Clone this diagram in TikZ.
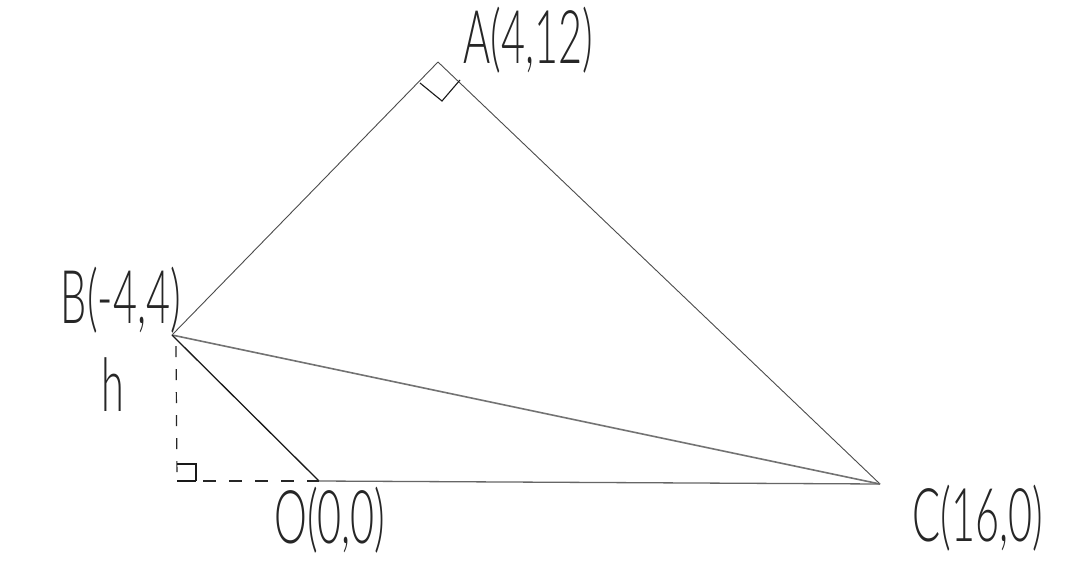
\documentclass[tikz,border=0pt]{standalone}
\usepackage{fontspec}
\setmainfont{Lato Light}
\begin{document}
\begin{tikzpicture}[x=1pt,y=-1pt,
  lbl/.style={font=\fontsize{74}{74}\selectfont, text=black!85, inner sep=0pt, xscale=0.56, transform shape},
  thinside/.style={draw=black!70, line width=0.9pt},
  graymid/.style={draw=black!55, line width=1.6pt},
  darkside/.style={draw=black!90, line width=1.3pt},
  dashln/.style={draw=black!85, line width=1.2pt, dash pattern=on 11pt off 12pt}]
\useasboundingbox[fill=white] (0,0) rectangle (1076,560);
% points
\coordinate (A) at (438,62);
\coordinate (B) at (172,335);
\coordinate (O) at (319,481);
\coordinate (C) at (880,484);
\coordinate (F) at (177,481);
\coordinate (Bt) at (176,346);
\coordinate (Fh) at (203,481);
\coordinate (Ma) at (420,83);
\coordinate (Mb) at (442,101);
\coordinate (Mc) at (460,80);
\coordinate (Fa) at (177,464);
\coordinate (Fb) at (196,464);
\coordinate (Fc) at (196,481);
% sides
\draw[thinside] (A) -- (B);
\draw[thinside] (A) -- (C);
\draw[graymid] (B) -- (C);
\draw[darkside] (B) -- (O);
\draw[draw=black!60, line width=1.3pt] (O) -- (C);
% right angle at A
\draw[darkside, line width=1.1pt] (Ma) -- (Mb) -- (Mc);
% height
\draw[dashln] (Bt) -- (F);
\draw[dashln, dash pattern=on 13pt off 13pt] (Fh) -- (O);
\draw[darkside, line width=1.1pt] (F) -- (Fc) (Fa) -- (Fb) -- (Fc);
% labels
\node[lbl] (lA) at (528,40) {A(4,12)};
\node[lbl] (lB) at (121,300) {B(-4,4)};
\node[lbl] (lh) at (113,385) {h};
\node[lbl] (lO) at (330,520) {O(0,0)};
\node[lbl] (lC) at (978,518) {C(16,0)};
\end{tikzpicture}
\end{document}
